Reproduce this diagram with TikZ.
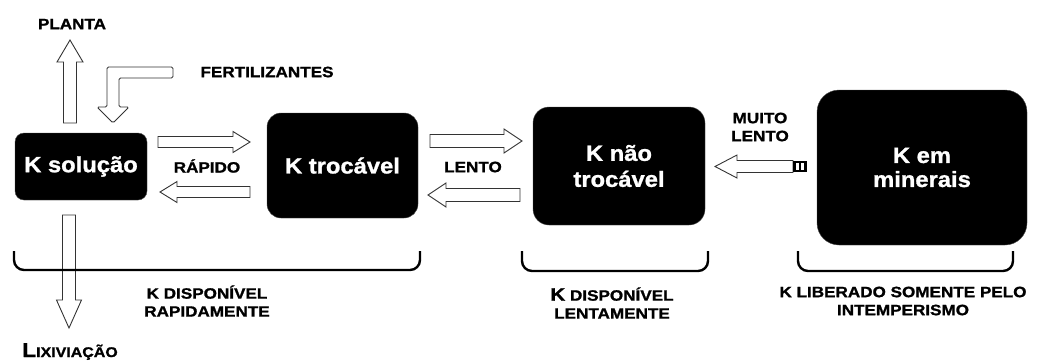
\documentclass[tikz,border=0pt]{standalone}
\usepackage{fontspec}
\newfontfamily\labfont{Liberation Sans Bold}[FakeStretch=1.14,FakeBold=1.2]
\newfontfamily\boxfont{Liberation Sans Bold}[FakeStretch=1.08,FakeBold=1.2]
\begin{document}
\begin{tikzpicture}[x=1pt,y=-1pt,
  kbox/.style={fill=black, draw=black!70, text=white, inner sep=0pt, align=center,
    font=\boxfont\fontsize{22}{26}\selectfont},
  lab/.style={text=black, inner sep=0pt, align=center,
    font=\labfont\fontsize{15}{18}\selectfont},
  arrowline/.style={draw=black!80, line width=0.9pt, fill=white, line join=miter},
  bracket/.style={draw=black, line width=2.4pt, rounded corners=10pt},
  pics/barrow/.style n args={4}{code={
    \draw[arrowline] (0,-#2) -- ({#1-#4},-#2) -- ({#1-#4},-#3) -- (#1,0)
      -- ({#1-#4},#3) -- ({#1-#4},#2) -- (0,#2) -- cycle;}}
]
\useasboundingbox (0,0) rectangle (1040,360);

% boxes
\node[kbox, rounded corners=9pt, minimum width=132pt, minimum height=67pt] (ksol) at (81,166.5) {K solução};
\node[kbox, rounded corners=14pt, minimum width=151pt, minimum height=105pt] (ktroc) at (342.5,165.5) {K trocável};
\node[kbox, rounded corners=16pt, minimum width=172pt, minimum height=118pt] (knao) at (619,166) {K não\\trocável};
\node[kbox, rounded corners=22pt, minimum width=210pt, minimum height=155pt, font=\boxfont\fontsize{22}{24}\selectfont] (kmin) at (922,167.5) {K em\\minerais};

% block arrows
\pic (aplanta) [rotate=90] at (70,123) {barrow={83}{6.5}{13}{22}};
\pic (alix) [rotate=-90] at (69,215) {barrow={113}{6.5}{12.5}{28}};
\pic (arapR) at (158,142) {barrow={92}{5.5}{10.5}{17}};
\pic (arapL) [rotate=180] at (250,192) {barrow={90}{5.5}{10.5}{17}};
\pic (alenR) at (430,141) {barrow={92}{6.5}{12}{18}};
\pic (alenL) [rotate=180] at (520,195) {barrow={92}{6.5}{12}{18}};
\pic (amuito) [rotate=180] at (793,166.5) {barrow={78}{6}{11.5}{22}};
% fertilizer L-shaped arrow
\draw[arrowline, rounded corners=1.5pt] (173,67) -- (107,67) -- (107,107) -- (97,107) -- (113,123)
  -- (129,107) -- (119,107) -- (119,78) -- (173,78) -- cycle;
% small block at the tail of the mineral arrow
\fill[black] (793,160.5) rectangle (807,172);
\fill[white] (795.5,163) rectangle (798.5,169.5);
\fill[white] (801,163) rectangle (804,169.5);

% brackets
\draw[bracket] (14,251) -- (14,270) -- (420,270) -- (420,251);
\draw[bracket] (522,251) -- (522,271) -- (708,271) -- (708,251);
\draw[bracket] (798,251) -- (798,271) -- (1013,271) -- (1013,251);

% labels
\node[lab] (tplanta) at (72,24) {PLANTA};
\node[lab] (tfert) at (267,72) {FERTILIZANTES};
\node[lab] (trap) at (207,166) {RÁPIDO};
\node[lab] (tlen) at (473,167) {LENTO};
\node[lab] (tmuito) at (760,127) {MUITO\\LENTO};
\node[lab] (tdisp1) at (207,301) {K DISPONÍVEL\\RAPIDAMENTE};
\node[lab] (tdisp2) at (612,303) {{\fontsize{18}{18}\selectfont K} DISPONÍVEL\\LENTAMENTE};
\node[lab] (tlib) at (903,301) {K LIBERADO SOMENTE PELO\\INTEMPERISMO};
\node[lab, anchor=base] (tlix) at (70,357) {{\fontsize{20}{20}\selectfont L}{\fontsize{14}{14}\selectfont IXIVIAÇÃO}};
\end{tikzpicture}
\end{document}
